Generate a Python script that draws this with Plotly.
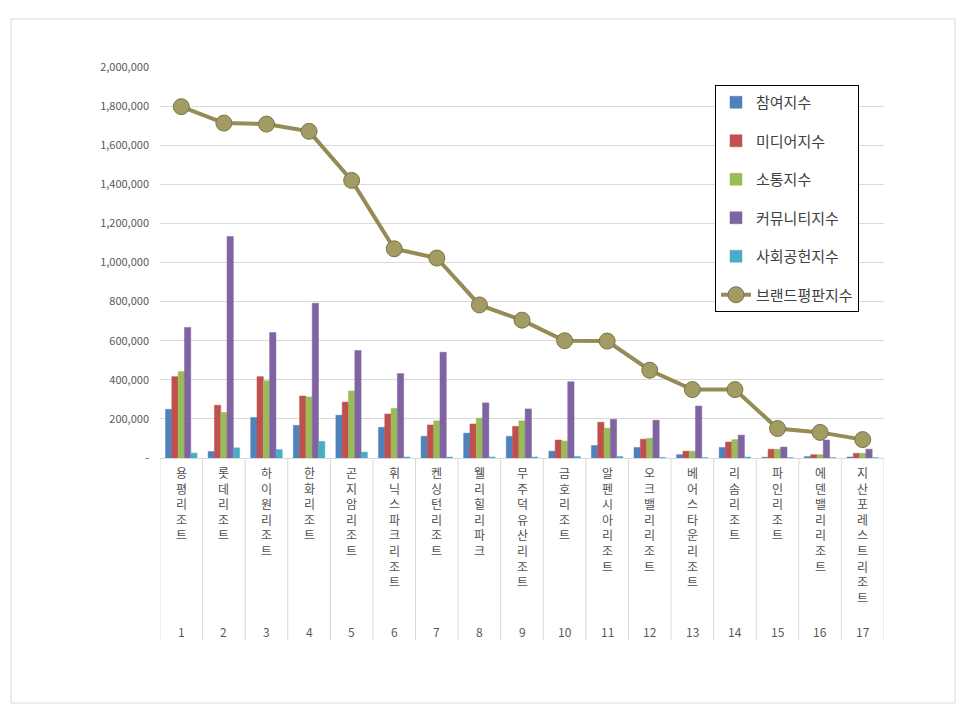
"""
Resort brand reputation index - grouped bars + total line (Excel style).
"""

import plotly.graph_objects as go

# ---- data ----
RANKS = [str(i) for i in range(1, 18)]
RESORTS = [
    "용평리조트", "롯데리조트", "하이원리조트", "한화리조트", "곤지암리조트",
    "휘닉스파크 리조트", "켄싱턴리조트", "웰리힐리파크", "무주덕유산리조트", "금호리조트",
    "알펜시아 리조트", "오크밸리리조트", "베어스타운리조트", "리솜리조트", "파인리조트",
    "에덴밸리리조트", "지산포레스트리조트",
]

participation = [249000, 33000, 207000, 167000, 219000, 157000, 111000, 127000, 111000,
                 35000, 64000, 54000, 17000, 54000, 4000, 7000, 5000]
media = [416000, 270000, 416000, 317000, 286000, 225000, 169000, 174000, 162000,
         92000, 183000, 96000, 35000, 82000, 45000, 17000, 24000]
communication = [442000, 233000, 395000, 312000, 343000, 254000, 190000, 204000, 190000,
                 87000, 153000, 101000, 35000, 94000, 45000, 17000, 24000]
community = [668000, 1133000, 642000, 792000, 550000, 432000, 541000, 282000, 251000,
             390000, 198000, 193000, 266000, 117000, 56000, 92000, 45000]
social = [25000, 52000, 43000, 85000, 30000, 5000, 5000, 5000, 5000,
          8000, 8000, 3000, 2000, 5000, 2000, 2000, 2000]
brand = [1797000, 1713000, 1708000, 1671000, 1420000, 1070000, 1023000, 783000, 705000,
         600000, 598000, 449000, 350000, 350000, 151000, 131000, 94000]

Y_TICKS = [0, 200000, 400000, 600000, 800000, 1000000, 1200000, 1400000,
           1600000, 1800000, 2000000]

BAR_SERIES = [
    ("참여지수", participation, "#4F81BD"),
    ("미디어지수", media, "#C0504D"),
    ("소통지수", communication, "#9BBB59"),
    ("커뮤니티지수", community, "#8064A2"),
    ("사회공헌지수", social, "#4BACC6"),
]

FONT = "Noto Sans CJK KR"
PAD = 8  # page body margin
W, H = 966 - PAD, 706 - PAD
L, R, T, B = 160 - PAD, 90 - PAD, 67 - PAD, 256 - PAD
PW, PH = W - L - R, H - T - B

fig = go.Figure()

for name, vals, color in BAR_SERIES:
    fig.add_trace(go.Bar(
        x=RESORTS, y=vals, name=name, legendgroup=name,
        marker=dict(color=color, line=dict(color=color, width=0.5)),
    ))

fig.add_trace(go.Scatter(
    x=RESORTS, y=brand, name="브랜드평판지수", legendgroup="brand",
    mode="lines+markers",
    line=dict(color="#948B55", width=4),
    marker=dict(size=16, color="#A39B64", line=dict(color="#7D7545", width=1)),
))

# category axis: stacked vertical names + rank numbers, with separators
annotations = []
for i, nm in enumerate(RESORTS):
    annotations.append(dict(
        x=i, y=0, xref="x", yref="paper",
        text="<br>".join(nm.replace(" ", "")),
        showarrow=False, xanchor="center", yanchor="top", yshift=-4,
        font=dict(family=FONT, size=12, color="#505050"),
    ))
    annotations.append(dict(
        x=i, y=0, xref="x", yref="paper", text=RANKS[i], showarrow=False,
        xanchor="center", yanchor="middle", yshift=-173,
        font=dict(family=FONT, size=12, color="#595959"),
    ))

shapes = []
for i in range(len(RESORTS) + 1):
    shapes.append(dict(
        type="line", xref="x", yref="paper", x0=i - 0.5, x1=i - 0.5,
        y0=0, y1=-182 / PH, line=dict(color="#D9D9D9", width=1),
    ))
# outer chart border
shapes.append(dict(
    type="rect", xref="paper", yref="paper",
    x0=(11 - 160) / PW, x1=(955 - 160) / PW,
    y0=(450 - 695) / PH, y1=(450 - 11) / PH,
    line=dict(color="#D9D9D9", width=1), layer="below",
))

fig.update_layout(
    width=W, height=H,
    margin=dict(l=L, r=R, t=T, b=B),
    paper_bgcolor="white", plot_bgcolor="white",
    barmode="group", bargap=0.26, bargroupgap=0,
    font=dict(family=FONT, color="#595959"),
    xaxis=dict(
        type="category", showticklabels=False, showgrid=False,
        showline=True, linecolor="#D9D9D9", linewidth=1,
        range=[-0.5, len(RESORTS) - 0.5], fixedrange=True,
    ),
    yaxis=dict(
        range=[0, 2000000], tickvals=Y_TICKS,
        ticktext=["-"] + [f"{v:,}" for v in Y_TICKS[1:]],
        tickfont=dict(family=FONT, size=11, color="#595959"),
        showgrid=True, gridcolor="#D9D9D9", gridwidth=1,
        zeroline=False, showline=False, ticks="", ticklabelstandoff=10,
    ),
    legend=dict(
        x=(715 - 160) / PW, y=(450 - 77) / PH, xanchor="left", yanchor="top",
        bordercolor="#000000", borderwidth=1, bgcolor="white",
        font=dict(family=FONT, size=15, color="#404040"),
        traceorder="grouped", tracegroupgap=16, itemwidth=30,
    ),
    annotations=annotations,
    shapes=shapes,
)

fig.write_html("out.html")
